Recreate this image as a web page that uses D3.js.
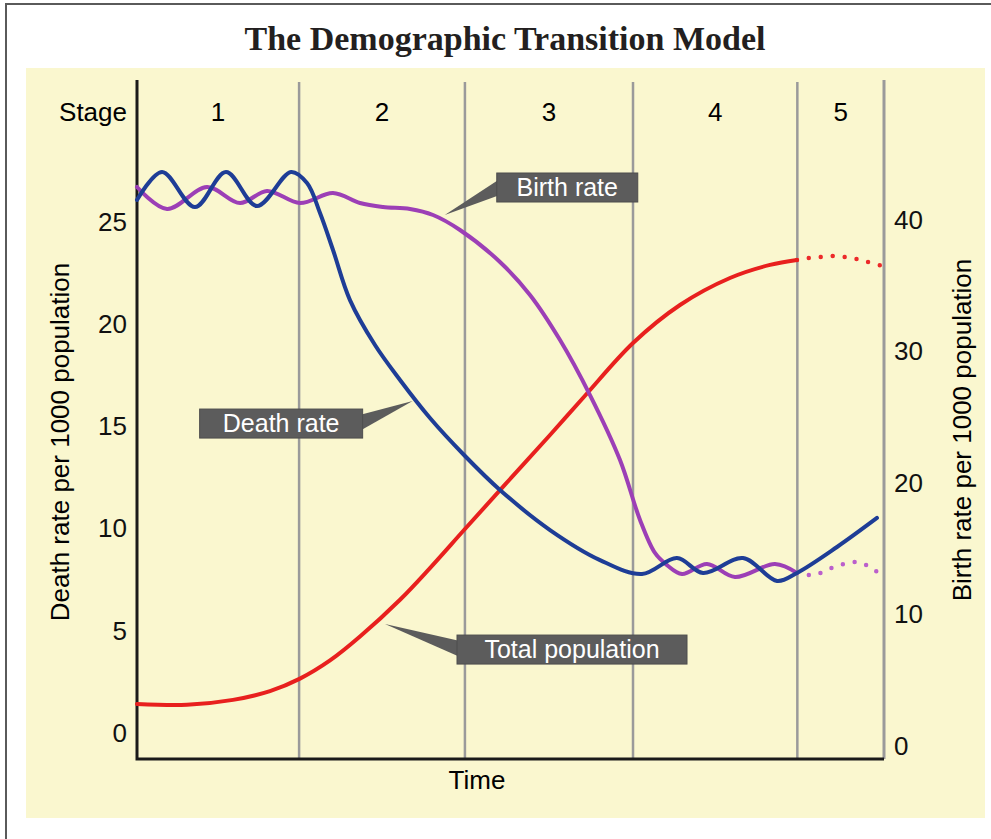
<!DOCTYPE html>
<html>
<head>
<meta charset="utf-8">
<script src="https://cdn.jsdelivr.net/npm/d3@7/dist/d3.min.js"></script>
<style>
  body { margin: 0; background: #fff; }
  svg { display: block; }
  text { font-family: "Liberation Sans", Arial, sans-serif; }
</style>
</head>
<body>
<svg width="991" height="839"></svg>
<script>
// data: time runs 0..100, death rate / population on left scale, birth rate on right scale
var stages = ["1", "2", "3", "4", "5"];
var stageBounds = [0, 21.7, 43.9, 66.4, 88.4, 100];
var leftTicks = [0, 5, 10, 15, 20, 25];
var rightTicks = [0, 10, 20, 30, 40];

var deathRate = [
  [0, 26.08], [3.35, 27.45], [7.76, 25.73], [11.91, 27.45], [16.06, 25.78], [20.62, 27.45],
  [22.76, 26.91], [24.5, 25.44], [26.24, 23.63], [28.51, 21.18], [31.86, 18.98], [35.21, 17.27],
  [39.22, 15.41], [43.78, 13.6], [48.59, 11.89], [55.29, 9.93], [61.98, 8.46], [67.6, 7.78],
  [72.29, 8.56], [75.77, 7.83], [81.12, 8.56], [85.68, 7.44], [88.35, 7.83], [93.71, 9.1], [99.06, 10.52]
];
var birthRate = [
  [0, 42.51], [4.02, 40.84], [9.37, 42.51], [13.79, 41.29], [17.4, 42.21], [21.82, 41.29],
  [26.24, 42.05], [29.85, 41.29], [32.93, 40.99], [36.55, 40.84], [39.63, 40.38], [43.24, 39.24],
  [48.59, 36.81], [52.61, 34.3], [56.63, 30.87], [60.64, 26.69], [64.66, 21.75], [67.34, 17.19],
  [69.34, 14.68], [70.95, 13.76], [72.96, 13.08], [76.31, 13.84], [80.05, 12.85], [85.41, 13.84], [88.35, 13.16]
];
var birthProjected = [
  [88.35, 13.16], [90.5, 13.0], [93.71, 13.69], [96.39, 13.99], [98.13, 13.61], [99.73, 12.93]
];
var population = [
  [0, 1.42], [6.69, 1.38], [12.85, 1.62], [17.8, 2.05], [21.82, 2.66], [25.84, 3.55], [29.85, 4.72],
  [35.21, 6.52], [39.22, 8.07], [43.78, 9.93], [49.26, 12.15], [55.29, 14.58], [59.97, 16.5],
  [66.4, 19.08], [72.69, 20.94], [79.38, 22.26], [84.74, 22.9], [88.35, 23.14]
];
var popProjected = [
  [88.35, 23.14], [89.83, 23.24], [91.43, 23.29], [93.17, 23.34], [94.78, 23.29],
  [96.39, 23.19], [97.86, 23.04], [99.73, 22.85]
];

var svg = d3.select("svg");

// frame + yellow panel
svg.append("rect").attr("x", 6).attr("y", 4).attr("width", 1000).attr("height", 900)
  .attr("fill", "#fff").attr("stroke", "#5a5a5a").attr("stroke-width", 2);
svg.append("rect").attr("x", 26).attr("y", 68).attr("width", 959).attr("height", 750)
  .attr("fill", "#faf7cf");

svg.append("text")
  .attr("x", 505).attr("y", 50)
  .attr("text-anchor", "middle")
  .style("font-family", "'Palatino Linotype', 'Book Antiqua', 'Liberation Serif', serif")
  .attr("font-weight", "bold").attr("font-size", "34px").attr("fill", "#231f20")
  .text("The Demographic Transition Model");

var x = d3.scaleLinear().domain([0, 100]).range([137, 884]);
var yLeft = d3.scaleLinear().domain([0, 25]).range([733, 222]);
var yRight = d3.scaleLinear().domain([0, 40]).range([746, 220]);
var plotTop = 80, plotBottom = 759;

// stage dividers
svg.selectAll(".divider")
  .data(stageBounds.slice(1, -1))
  .enter().append("line")
  .attr("x1", function(d){ return x(d); }).attr("x2", function(d){ return x(d); })
  .attr("y1", plotTop + 2).attr("y2", plotBottom)
  .attr("stroke", "#9a9a9a").attr("stroke-width", 2.5);

// right axis line (grey)
svg.append("line")
  .attr("x1", x(100)).attr("x2", x(100)).attr("y1", plotTop).attr("y2", plotBottom)
  .attr("stroke", "#9a9a9a").attr("stroke-width", 3);

// stage labels
svg.append("text").attr("x", 127).attr("y", 112).attr("dy", "0.35em")
  .attr("text-anchor", "end").attr("font-size", "26px").text("Stage");
svg.selectAll(".stage")
  .data(stages)
  .enter().append("text")
  .attr("x", function(d, i){ return (x(stageBounds[i]) + x(stageBounds[i + 1])) / 2; })
  .attr("y", 112).attr("dy", "0.35em")
  .attr("text-anchor", "middle").attr("font-size", "26px")
  .text(function(d){ return d; });

// axes
var gl = svg.append("g").attr("transform", "translate(137,0)")
  .call(d3.axisLeft(yLeft).tickValues(leftTicks).tickSize(0).tickPadding(10));
gl.select(".domain").remove();
gl.selectAll("text").attr("font-size", "26px").attr("fill", "#111")
  .style("font-family", "'Liberation Sans', Arial, sans-serif");

var gr = svg.append("g").attr("transform", "translate(884,0)")
  .call(d3.axisRight(yRight).tickValues(rightTicks).tickSize(0).tickPadding(10));
gr.select(".domain").remove();
gr.selectAll("text").attr("font-size", "26px").attr("fill", "#111")
  .style("font-family", "'Liberation Sans', Arial, sans-serif");

svg.append("path")
  .attr("d", "M137," + plotTop + "V" + plotBottom + "H" + x(100))
  .attr("fill", "none").attr("stroke", "#1a1a1a").attr("stroke-width", 3);

svg.append("text").attr("transform", "translate(60,442) rotate(-90)")
  .attr("text-anchor", "middle").attr("dy", "0.35em").attr("font-size", "26px")
  .text("Death rate per 1000 population");
svg.append("text").attr("transform", "translate(962,430) rotate(-90)")
  .attr("text-anchor", "middle").attr("dy", "0.35em").attr("font-size", "26px")
  .text("Birth rate per 1000 population");
svg.append("text").attr("x", 477).attr("y", 780).attr("dy", "0.35em")
  .attr("text-anchor", "middle").attr("font-size", "26px").text("Time");

// lines
var lineL = d3.line().x(function(d){ return x(d[0]); }).y(function(d){ return yLeft(d[1]); })
  .curve(d3.curveCatmullRom.alpha(0.5));
var lineR = d3.line().x(function(d){ return x(d[0]); }).y(function(d){ return yRight(d[1]); })
  .curve(d3.curveCatmullRom.alpha(0.5));

function drawLine(data, gen, color, dotted) {
  var p = svg.append("path").datum(data)
    .attr("d", gen)
    .attr("fill", "none")
    .attr("stroke", color)
    .attr("stroke-width", dotted ? 4.5 : 4)
    .attr("stroke-linecap", "round");
  if (dotted) p.attr("stroke-dasharray", "0,12");
}

drawLine(popProjected, lineL, "#ec2a2a", true);
drawLine(population, lineL, "#e8201e", false);
drawLine(birthProjected, lineR, "#bb5fcc", true);
drawLine(birthRate, lineR, "#9c3fb6", false);
drawLine(deathRate, lineL, "#1e3d96", false);

// callouts: tip at a point on the chart, box offset from it
var callouts = [
  { text: "Birth rate", t: 41.2, v: 40.38, scale: yRight, bx: 52, by: -42, bw: 141, tail: "left" },
  { text: "Death rate", t: 36.9, v: 16.24, scale: yLeft, bx: -213, by: 8, bw: 163, tail: "right" },
  { text: "Total population", t: 33.2, v: 5.33, scale: yLeft, bx: 72, by: 11, bw: 230, tail: "left" }
];

callouts.forEach(function(c) {
  var tx = x(c.t), ty = c.scale(c.v);
  var bx = tx + c.bx, by = ty + c.by, bh = 29;
  var g = svg.append("g");
  var ex = c.tail === "left" ? bx + 3 : bx + c.bw - 3;
  g.append("path")
    .attr("d", "M" + ex + "," + (by + 6) + "L" + tx + "," + ty + "L" + ex + "," + (by + 22) + "Z")
    .attr("fill", "#5c5c5c");
  g.append("rect").attr("x", bx).attr("y", by).attr("width", c.bw).attr("height", bh)
    .attr("fill", "#5c5c5c").attr("stroke", "#4d4d4d").attr("stroke-width", 1);
  g.append("text").attr("x", bx + c.bw / 2).attr("y", by + bh / 2).attr("dy", "0.35em")
    .attr("text-anchor", "middle").attr("fill", "#fff").attr("font-size", "25px")
    .text(c.text);
});
</script>
</body>
</html>
